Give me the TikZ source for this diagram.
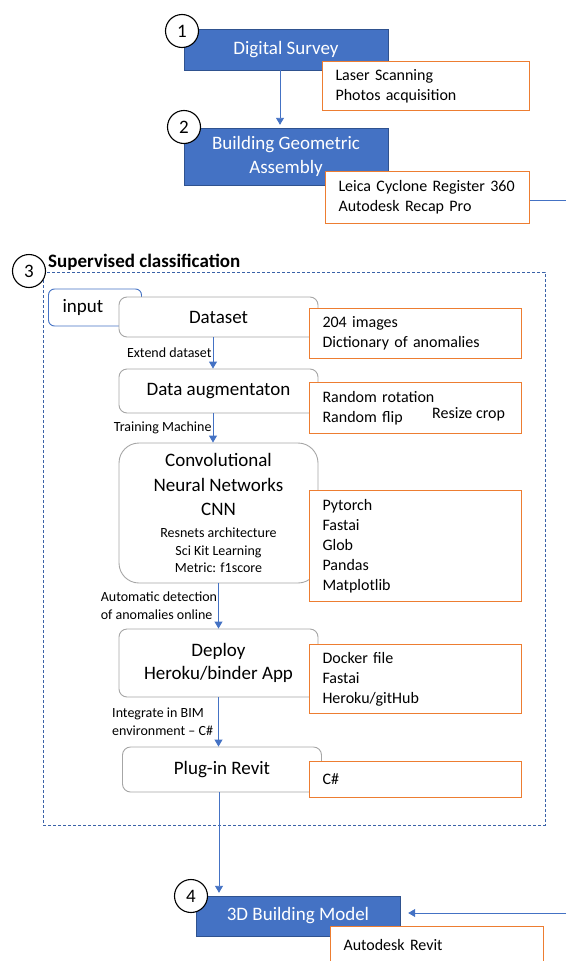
\documentclass[tikz,border=0pt]{standalone}
\usepackage{fontspec}
\setmainfont{Carlito}
\usetikzlibrary{arrows.meta,positioning}
\definecolor{stageblue}{HTML}{4472C4}
\definecolor{stageedge}{HTML}{2F528F}
\definecolor{toolorange}{HTML}{ED7D31}
\definecolor{taskgray}{HTML}{A6A6A6}
\definecolor{groupblue}{HTML}{3A62A8}

\begin{document}
\begin{tikzpicture}[x=1pt, y=-1pt,
    stage/.style={draw=stageedge, fill=stageblue, text=white, minimum width=204pt, inner sep=0pt, align=center, font=\fontsize{19}{24}\selectfont},
    num/.style={circle, draw=black, line width=1.1pt, fill=white, minimum size=33pt, inner sep=0pt, font=\fontsize{19}{19}\selectfont},
    task/.style={draw=taskgray, line width=0.9pt, fill=white, rounded corners=8pt, minimum width=199pt, inner sep=0pt, align=center, font=\fontsize{19}{23}\selectfont},
    tools/.style={draw=toolorange, line width=1pt, fill=white, anchor=north west, text width=186pt, inner xsep=13pt, inner ysep=0pt, align=left, font=\fontsize{16}{20}\selectfont},
    flow/.style={stageblue, line width=0.9pt, -{Triangle[width=8pt,length=7pt]}},
    note/.style={text=black, inner sep=1pt, align=left, font=\fontsize{14}{18}\selectfont}
]
    \useasboundingbox (0,0) rectangle (566,961);

    % Grupo clasificacion
    \node[draw=groupblue, line width=1pt, dash pattern=on 3pt off 2pt, minimum width=502pt, minimum height=553pt, inner sep=0pt] (group) at (294,548.5) {};
    \node[anchor=west, inner sep=0pt, font=\bfseries\fontsize{19}{19}\selectfont] (grouptitle) at (48,262) {Supervised classification};

    % Etapas
    \node[stage, minimum height=41pt] (survey) at (286,49.5) {Digital Survey};
    \node[stage, minimum height=57pt] (assembly) at (286,156.5) {Building Geometric\\Assembly};
    \node[stage, minimum height=40pt] (model) at (298,916) {3D Building Model};

    % Tareas
    \node[draw=stageblue, line width=0.9pt, fill=white, rounded corners=6pt, minimum height=37pt, text width=65pt, inner xsep=14pt, inner ysep=0pt, align=left, font=\fontsize{19}{23}\selectfont] (input) at (95,307.5) {input};
    \node[task, minimum height=40pt] (dataset) at (218.5,317) {Dataset};
    \node[task, minimum height=44pt] (augment) at (218.5,391) {Data augmentaton};
    \node[task, minimum height=140pt, rounded corners=20pt, font=\fontsize{19}{24.5}\selectfont] (cnn) at (218.5,513)
        {Convolutional\\Neural Networks\\CNN\\[-2.5pt]\fontsize{14}{17}\selectfont Resnets architecture\\[-7pt]\fontsize{14}{17}\selectfont Sci Kit Learning\\[-7pt]\fontsize{14}{17}\selectfont Metric: f1score};
    \node[task, minimum height=68pt, font=\fontsize{19}{22.5}\selectfont] (deploy) at (218.5,663) {Deploy\\Heroku/binder App};
    \node[task, minimum height=45pt] (plugin) at (222,769.5) {Plug-in Revit};

    % Herramientas
    \node[tools, text width=181pt, minimum height=49pt] (scan) at (322,61) {Laser Scanning\\Photos acquisition};
    \node[tools, text width=178pt, minimum height=52pt] (leica) at (325,171) {Leica Cyclone Register 360\\Autodesk Recap Pro};
    \node[tools, minimum height=50pt] (images) at (309,308) {204 images\\Dictionary of anomalies};
    \node[tools, minimum height=51pt] (augtools) at (309,382) {Random rotation\\Random flip};
    \node[anchor=base west, inner sep=0pt, font=\fontsize{16}{20}\selectfont] (resize) at (432,418) {Resize crop};
    \node[tools, minimum height=111pt] (libs) at (309,490) {Pytorch\\Fastai\\Glob\\Pandas\\Matplotlib};
    \node[tools, minimum height=69pt] (deploytools) at (309,644) {Docker file\\Fastai\\Heroku/gitHub};
    \node[tools, minimum height=36pt] (csharp) at (309,761) {C\#};
    \node[tools, text width=187pt, minimum height=37pt] (revit) at (330,926) {Autodesk Revit};

    % Numeros
    \node[num] (n1) at (182,31) {1};
    \node[num] (n2) at (184,127) {2};
    \node[num] (n3) at (29,271) {3};
    \node[num] (n4) at (191,896) {4};

    % Flechas
    \draw[flow, shorten >=3pt] ([xshift=-6pt]survey.south) -- ([xshift=-6pt]assembly.north);
    \draw[flow] ([xshift=-5.5pt]dataset.south) -- ([xshift=-5.5pt]augment.north)
        node[note, midway, left] (lblextend) {Extend dataset};
    \draw[flow] ([xshift=-5.5pt]augment.south) -- ([xshift=-5.5pt]cnn.north)
        node[note, midway, left] (lbltrain) {Training Machine};
    \draw[flow] (cnn.south) -- (deploy.north)
        node[note, midway, left] (lbldetect) {Automatic detection\\of anomalies online};
    \draw[flow] (deploy.south) -- (deploy.south |- plugin.north)
        node[note, midway, left=4pt] (lblbim) {Integrate in BIM\\environment -- C\#};
    \coordinate (pin) at ([xshift=-3pt]plugin.south);
    \draw[flow, shorten >=3pt] (pin) -- (pin |- model.north);

    % Salidas al borde
    \coordinate (out1) at (566,200);
    \coordinate (in1) at (566,913);
    \draw[stageblue, line width=0.9pt] (leica.east |- out1) -- (out1);
    \draw[flow, shorten >=8pt] (in1) -- (in1 -| model.east);
\end{tikzpicture}
\end{document}
